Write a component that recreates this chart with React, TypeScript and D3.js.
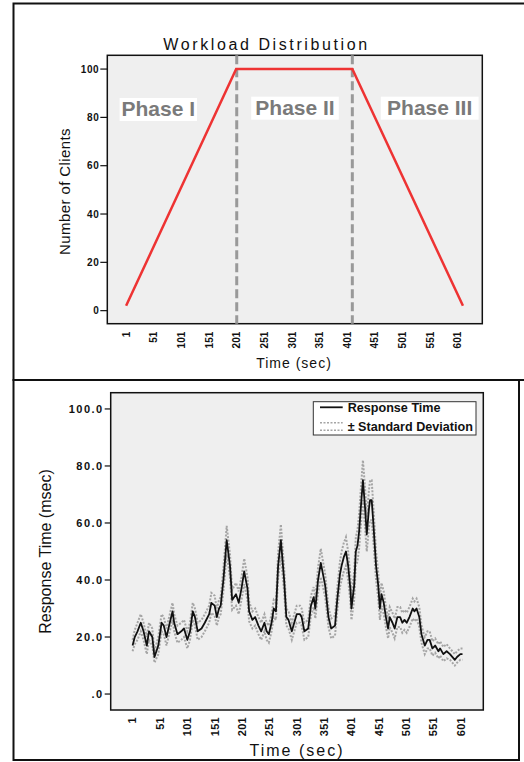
import React from 'react';
import * as d3 from 'd3';

// workload ramp (top chart)
const loadTime = [1, 200, 410, 610];
const loadClients = [2, 100, 100, 2];
const phaseEdges = [201, 410];
const phaseNames = ['Phase I', 'Phase II', 'Phase III'];

const timeTicks = [1, 51, 101, 151, 201, 251, 301, 351, 401, 451, 501, 551, 601];
const clientTicks = [0, 20, 40, 60, 80, 100];
const rtTicks = [0, 20, 40, 60, 80, 100];
const rtTickLabels = ['.0', '20.0', '40.0', '60.0', '80.0', '100.0'];

// response time (bottom chart)
const rtTime = [
  1, 5, 10, 16, 21, 27, 31, 37, 41, 48, 54, 58, 63, 69, 74, 77, 83, 90, 95, 101,
  106, 111, 115, 120, 127, 133, 141, 145, 151, 155, 159, 162, 167, 173, 179, 183, 190, 195, 200, 205,
  211, 214, 220, 225, 231, 236, 242, 246, 250, 255, 259, 263, 267, 272, 278, 282, 286, 292, 295, 301,
  307, 310, 315, 322, 327, 332, 335, 340, 345, 353, 359, 364, 371, 375, 380, 383, 387, 391, 395, 399,
  401, 406, 409, 412, 415, 418, 422, 426, 429, 433, 435, 438, 441, 446, 450, 453, 456, 460, 464, 468,
  471, 476, 480, 485, 490, 494, 498, 502, 507, 513, 516, 520, 525, 529, 535, 540, 544, 549, 554, 560,
  563, 569, 575, 581, 590, 594, 600, 604,
];
const rtMean = [
  17, 20, 22, 25, 22, 17, 22, 20, 13, 17, 25, 24, 20, 25, 29, 25, 21, 22, 23, 19,
  22, 29, 27, 22, 23, 25, 28, 32, 31, 27, 30, 31, 40, 54, 45, 33, 35, 32, 37, 43,
  37, 29, 26, 27, 24, 22, 25, 22, 21, 25, 30, 29, 45, 54, 40, 27, 26, 22, 24, 28,
  28, 27, 22, 23, 31, 34, 30, 40, 46, 38, 27, 23, 24, 33, 42, 45, 48, 50, 45, 37,
  30, 38, 50, 52, 57, 65, 75, 65, 56, 65, 68, 68, 60, 45, 38, 30, 35, 32, 27, 23,
  27, 25, 23, 27, 27, 25, 26, 25, 27, 30, 29, 30, 27, 21, 17, 19, 19, 16, 17, 15,
  16, 14, 15, 14, 12, 13, 14, 14,
];
const rtSd = [
  2, 2.5, 3, 3, 3, 3, 3, 3, 2, 3, 3, 3, 3, 3, 3, 3, 3, 3, 3, 3,
  3, 3, 3, 3, 3, 3, 3, 3.5, 3.5, 3, 3, 3, 4, 5, 4, 3.5, 4, 4, 4, 4.5,
  4, 3.5, 3, 3, 3, 3, 3, 3, 3, 3, 3, 3, 4.5, 5.5, 4, 3, 3, 3, 3, 3,
  3, 3, 3, 3, 3.5, 3.5, 3.5, 4.5, 5, 4, 3.5, 3.5, 3.5, 4, 4.5, 5, 5, 5, 5, 4.5,
  4, 5, 5, 5.5, 6, 6.5, 7, 7, 6, 6.5, 7, 7, 6, 5, 4.5, 4, 4, 4, 3.5, 3.5,
  3.5, 3.5, 3.5, 3.5, 3.5, 3.5, 3.5, 3.5, 3.5, 3.5, 3.5, 3.5, 3.5, 3, 3, 3, 3, 2.5, 2.5, 2.5,
  2.5, 2.5, 2.5, 2, 2, 2, 2, 2,
];

const FONT = '"Liberation Sans", Arial, Helvetica, sans-serif';

function TopChart() {
  const x = d3.scaleLinear().domain([-33, 645]).range([107.3, 482.3]);
  const y = d3.scaleLinear().domain([-5.4, 105.7]).range([323.7, 55.3]);
  const [x0, x1] = x.range();
  const [y0, y1] = y.range();
  const pts = loadTime.map((t, i) => [t, loadClients[i]] as [number, number]);
  const line = d3.line<[number, number]>().x((d) => x(d[0])).y((d) => y(d[1]));
  const phaseX = [158.3, 295, 429.7];
  const phaseY = [116, 114.7, 114.7];

  return (
    <g>
      <text x={266.5} y={50} textAnchor="middle" fontSize={16} letterSpacing={2.6} fontFamily={FONT} fill="#111">
        Workload Distribution
      </text>
      <rect x={x0} y={y1} width={x1 - x0} height={y0 - y1} fill="#efefef" stroke="#111" strokeWidth={1.5} />
      {phaseNames.map((p, i) => {
        const w = p.length * 10.2 + 6;
        return <rect key={p} x={phaseX[i] - w / 2} y={phaseY[i] - 18} width={w} height={23} fill="#fff" />;
      })}
      {phaseEdges.map((t) => (
        <line key={t} x1={x(t)} x2={x(t)} y1={y1} y2={y0} stroke="#999" strokeWidth={3} strokeDasharray="9,4" />
      ))}
      <path d={line(pts) || ''} fill="none" stroke="#ee3333" strokeWidth={2.5} />
      {phaseNames.map((p, i) => (
        <text key={p} x={phaseX[i]} y={phaseY[i]} textAnchor="middle" fontSize={21} fontWeight="bold" fontFamily={FONT} fill="#7a7a7a">
          {p}
        </text>
      ))}
      {clientTicks.map((v) => (
        <g key={v}>
          <line x1={x0 - 7} x2={x0} y1={y(v)} y2={y(v)} stroke="#111" strokeWidth={1.2} />
          <text x={x0 - 8} y={y(v)} dy="0.35em" textAnchor="end" fontSize={10} fontWeight="bold" letterSpacing={0.6} fontFamily={FONT} fill="#111">
            {v}
          </text>
        </g>
      ))}
      {timeTicks.map((t) => (
        <text
          key={t}
          transform={`translate(${x(t)},${y0 + 8}) rotate(-90)`}
          dy="0.35em"
          textAnchor="end"
          fontSize={10}
          fontWeight="bold"
          fontFamily={FONT}
          fill="#111"
        >
          {t}
        </text>
      ))}
      <text transform="translate(70,191.5) rotate(-90)" textAnchor="middle" fontSize={15} letterSpacing={0.4} fontFamily={FONT} fill="#111">
        Number of Clients
      </text>
      <text x={294} y={368} textAnchor="middle" fontSize={14} letterSpacing={1} fontFamily={FONT} fill="#111">
        Time (sec)
      </text>
    </g>
  );
}

function BottomChart() {
  const x = d3.scaleLinear().domain([-39, 642]).range([110.7, 483.3]);
  const y = d3.scaleLinear().domain([-5.6, 105.7]).range([710, 392.7]);
  const [x0, x1] = x.range();
  const [y0, y1] = y.range();
  const line = d3.line<number>().x((_, i) => x(rtTime[i]));
  const mean = line.y((d) => y(d))(rtMean) || '';
  const upper = line.y((d, i) => y(d + rtSd[i]))(rtMean) || '';
  const lower = line.y((d, i) => y(d - rtSd[i]))(rtMean) || '';

  return (
    <g>
      <rect x={x0} y={y1} width={x1 - x0} height={y0 - y1} fill="#efefef" stroke="#111" strokeWidth={1.5} />
      <path d={upper} fill="none" stroke="#a5a5a5" strokeWidth={2} strokeDasharray="2,1.5" />
      <path d={lower} fill="none" stroke="#a5a5a5" strokeWidth={2} strokeDasharray="2,1.5" />
      <path d={mean} fill="none" stroke="#111" strokeWidth={1.8} strokeLinejoin="round" />
      {rtTicks.map((v, i) => (
        <g key={v}>
          <line x1={x0 - 6} x2={x0} y1={y(v)} y2={y(v)} stroke="#111" strokeWidth={1.2} />
          <text x={x0 - 7} y={y(v)} dy="0.35em" textAnchor="end" fontSize={11} fontWeight="bold" letterSpacing={1.5} fontFamily={FONT} fill="#111">
            {rtTickLabels[i]}
          </text>
        </g>
      ))}
      {timeTicks.map((t) => (
        <text
          key={t}
          transform={`translate(${x(t)},${y0 + 7}) rotate(-90)`}
          dy="0.35em"
          textAnchor="end"
          fontSize={11}
          fontWeight="bold"
          letterSpacing={0.3}
          fontFamily={FONT}
          fill="#111"
        >
          {t}
        </text>
      ))}
      <text transform="translate(51,551.5) rotate(-90)" textAnchor="middle" fontSize={16} fontFamily={FONT} fill="#111">
        Response Time (msec)
      </text>
      <text x={297} y={755.5} textAnchor="middle" fontSize={16} letterSpacing={2} fontFamily={FONT} fill="#111">
        Time (sec)
      </text>
      <g>
        <rect x={313.3} y={401.7} width={162.7} height={33.3} fill="#fff" stroke="#333" strokeWidth={1} />
        <line x1={320} x2={342.7} y1={407.3} y2={407.3} stroke="#111" strokeWidth={1.8} />
        <text x={347.7} y={412} fontSize={12.6} fontWeight="bold" fontFamily={FONT} fill="#111">
          Response Time
        </text>
        <line x1={320} x2={342.7} y1={422.7} y2={422.7} stroke="#a5a5a5" strokeWidth={1.5} strokeDasharray="2,1.5" />
        <line x1={320} x2={342.7} y1={430.3} y2={430.3} stroke="#a5a5a5" strokeWidth={1.5} strokeDasharray="2,1.5" />
        <text x={347.7} y={431} fontSize={12.6} fontWeight="bold" fontFamily={FONT} fill="#111">
          ± Standard Deviation
        </text>
      </g>
    </g>
  );
}

export default function App() {
  return (
    <svg width={524} height={762} style={{ position: 'absolute', left: 0, top: 0, background: '#fff' }}>
      <rect x={13.5} y={3.5} width={520} height={376.5} fill="#fff" stroke="#111" strokeWidth={2} />
      <rect x={13.5} y={380} width={505.5} height={380} fill="#fff" stroke="#111" strokeWidth={2} />
      <line x1={13.5} x2={524} y1={380} y2={380} stroke="#111" strokeWidth={2} />
      <TopChart />
      <BottomChart />
    </svg>
  );
}
